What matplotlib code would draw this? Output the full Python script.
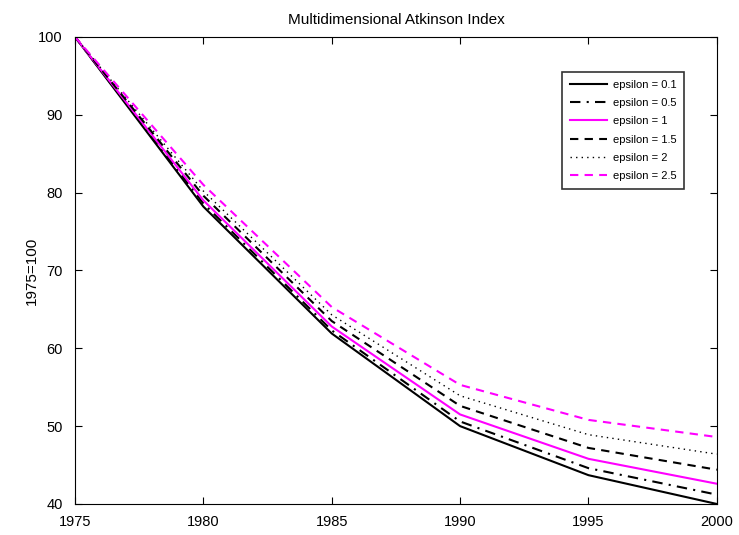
import matplotlib
matplotlib.use("Agg")
import matplotlib.pyplot as plt

plt.rcParams['font.family'] = ['Liberation Sans', 'DejaVu Sans']

years = [1975, 1980, 1985, 1990, 1995, 2000]

# Atkinson index, 1975=100, per epsilon
eps_01 = [100, 78.2, 61.9, 50.0, 43.7, 40.0]
eps_05 = [100, 78.6, 62.3, 50.6, 44.6, 41.2]
eps_1 = [100, 79.0, 62.8, 51.5, 45.8, 42.6]
eps_15 = [100, 79.6, 63.5, 52.6, 47.2, 44.4]
eps_2 = [100, 80.2, 64.3, 53.9, 48.9, 46.4]
eps_25 = [100, 81.0, 65.3, 55.3, 50.8, 48.6]

labels = ['epsilon = 0.1', 'epsilon = 0.5', 'epsilon = 1',
          'epsilon = 1.5', 'epsilon = 2', 'epsilon = 2.5']

fig = plt.figure(figsize=(7.39, 5.35), dpi=100)
ax = fig.add_axes([0.1015, 0.058, 0.8685, 0.873])

ax.plot(years, eps_01, color='black', lw=1.5, ls='-', label=labels[0])
ax.plot(years, eps_05, color='black', lw=1.5, ls=(0, (5, 3, 1, 3)), label=labels[1])
ax.plot(years, eps_1, color='magenta', lw=1.5, ls='-', label=labels[2])
ax.plot(years, eps_15, color='black', lw=1.5, ls=(0, (4, 3)), label=labels[3])
ax.plot(years, eps_2, color='black', lw=1.0, ls=(0, (1, 3)), label=labels[4])
ax.plot(years, eps_25, color='magenta', lw=1.5, ls=(0, (4, 3)), label=labels[5])

ax.set_xlim(1975, 2000)
ax.set_ylim(40, 100)
ax.set_xticks(years)
ax.set_yticks(range(40, 101, 10))
ax.tick_params(direction='in', top=True, right=True, labelsize=10.5, length=5)
ax.tick_params(axis='y', pad=9)
ax.tick_params(axis='x', pad=8)
ax.set_ylabel('1975=100', fontsize=11, labelpad=-1)
ax.set_title('Multidimensional Atkinson Index', fontsize=11, pad=9)

leg = ax.legend(loc='upper left', bbox_to_anchor=(0.7586, 0.925), fontsize=8,
                frameon=True, fancybox=False, edgecolor='black',
                handlelength=3.4, handletextpad=0.5, borderpad=0.7,
                labelspacing=0.75, borderaxespad=0)
leg.get_frame().set_linewidth(1.2)

fig.savefig('out.png', dpi=100)
